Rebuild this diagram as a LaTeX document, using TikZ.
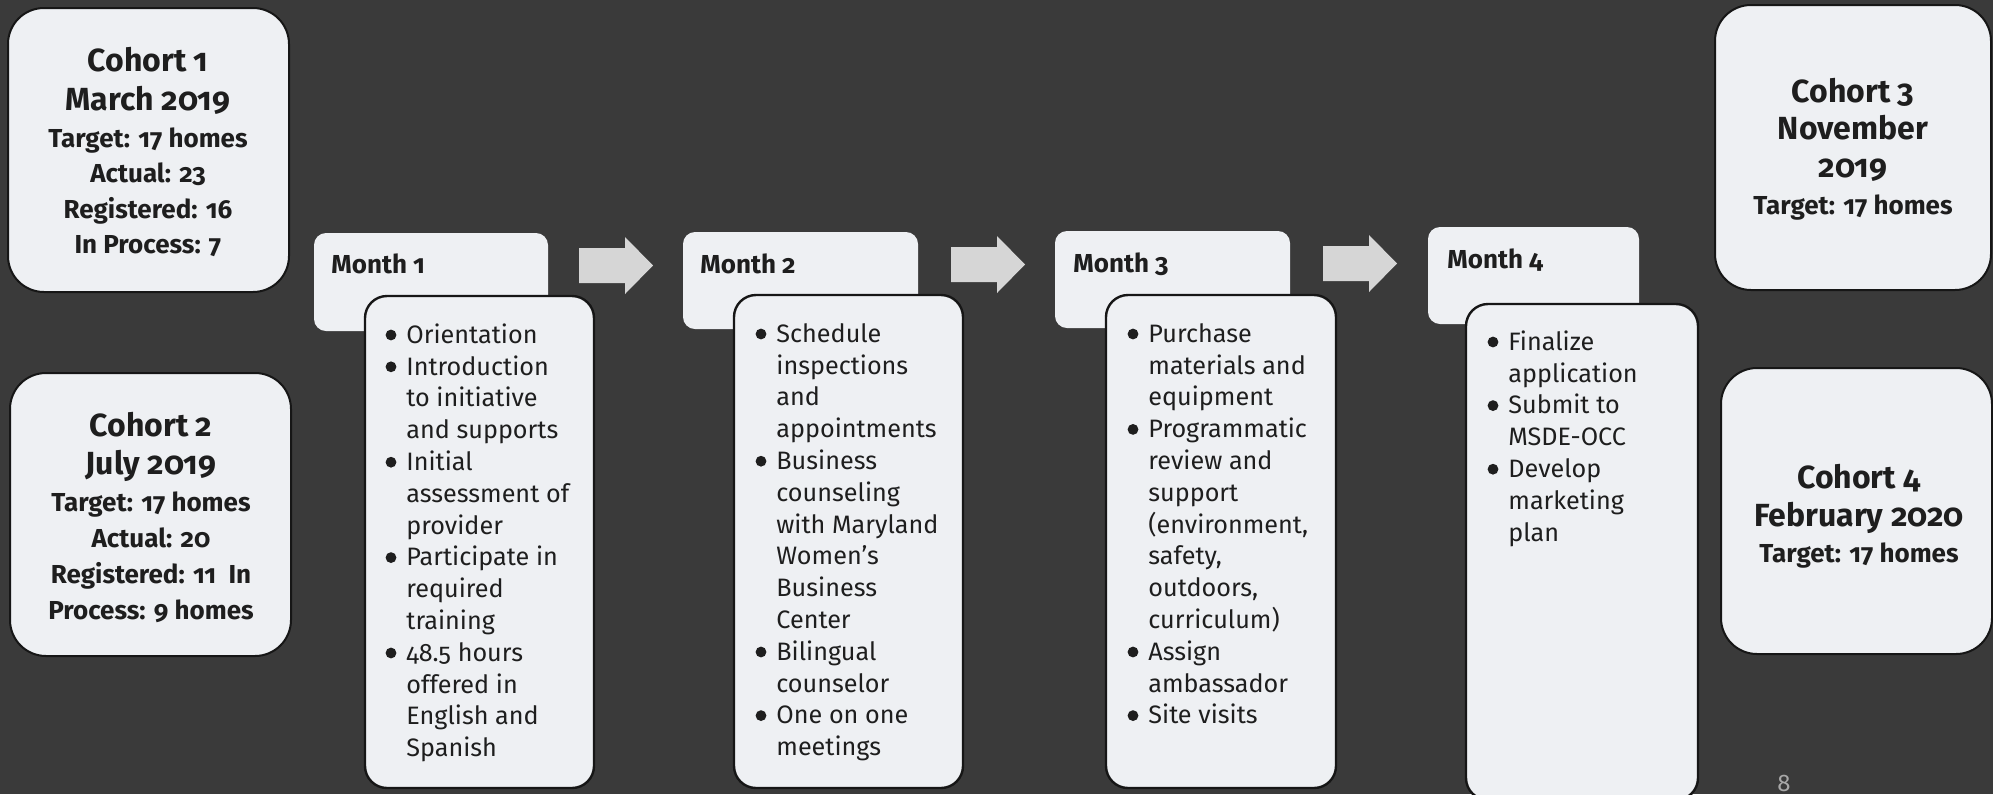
\documentclass[tikz,border=0pt]{standalone}
\usepackage{fontspec}
\setmainfont{Fira Sans}[Numbers=OldStyle]
\definecolor{bg}{HTML}{3A3A3A}
\definecolor{boxfill}{HTML}{EEF0F3}
\definecolor{boxline}{HTML}{161616}
\definecolor{arrowfill}{HTML}{D6D6D6}
\definecolor{ink}{HTML}{1E1E1E}
\definecolor{pagenum}{HTML}{A8A8A8}
\newcommand\mystrut{\rule{0pt}{0.7\baselineskip}}
\begin{document}
\begin{tikzpicture}[x=0.5pt,y=-0.5pt,
  cohort/.style={draw=boxline, line width=1pt, fill=boxfill, rounded corners=18pt,
    inner sep=0pt, outer sep=0pt, anchor=north west},
  monthhead/.style={fill=boxfill, rounded corners=6pt, inner sep=0pt, outer sep=0pt,
    anchor=north west},
  monthbody/.style={draw=boxline, line width=1.2pt, fill=boxfill, rounded corners=11pt,
    inner sep=0pt, outer sep=0pt, anchor=north west},
  ctitle/.style={font=\bfseries\fontsize{16}{#1}\selectfont, align=center, anchor=north,
    inner sep=0pt, text=ink},
  cdetail/.style={font=\bfseries\fontsize{13}{#1}\selectfont, align=center, anchor=north,
    inner sep=0pt, text=ink},
  mlabel/.style={font=\bfseries\fontsize{13}{16}\selectfont, anchor=base west,
    inner sep=0pt, text=ink},
  mlist/.style={font=\fontsize{12.6}{15.9}\selectfont, align=left, anchor=north west,
    inner sep=0pt, text=ink},
  blockarrow/.style={fill=arrowfill},
  bulletdot/.style={fill=ink}
]
\useasboundingbox (0,0) rectangle (1993,794);
\fill[bg] (0,0) rectangle (1993,794);

% ---------- cohort boxes ----------
\node[cohort, minimum width=140.5pt, minimum height=142pt] (c1box) at (8,8) {};
\node[cohort, minimum width=140.5pt, minimum height=141.5pt] (c2box) at (10,373) {};
\node[cohort, minimum width=138pt, minimum height=142.5pt] (c3box) at (1715,5) {};
\node[cohort, minimum width=135.5pt, minimum height=143pt] (c4box) at (1721,368) {};

\node[ctitle=19.5pt] (c1t) at (148,43.7) {\mystrut Cohort 1\\March 2019};
\node[cdetail=17.65pt] (c1d) at (148,122.3) {\mystrut Target: 17 homes\\Actual: 23\\Registered: 16\\In Process: 7};

\node[ctitle=19pt] (c2t) at (151,409.4) {\mystrut Cohort 2\\July 2019};
\node[cdetail=18pt] (c2d) at (151,485.8) {\mystrut Target: 17 homes\\Actual: 20\\Registered: 11 \ In\\Process: 9 homes};

\node[ctitle=18.75pt] (c3t) at (1853,75.75) {\mystrut Cohort 3\\November\\2019};
\node[cdetail=18pt] (c3d) at (1853,188.8) {\mystrut Target: 17 homes};

\node[ctitle=19pt] (c4t) at (1859,461.4) {\mystrut Cohort 4\\February 2020};
\node[cdetail=18pt] (c4d) at (1859,536.8) {\mystrut Target: 17 homes};

% ---------- month headers ----------
\node[monthhead, minimum width=117pt, minimum height=49pt] (m1) at (314,233) {};
\node[monthhead, minimum width=117.5pt, minimum height=48.5pt] (m2) at (683,232) {};
\node[monthhead, minimum width=117.5pt, minimum height=48.5pt] (m3) at (1055,231) {};
\node[monthhead, minimum width=105.5pt, minimum height=48.5pt] (m4) at (1428,227) {};

\node[mlabel] (m1t) at (331,273) {Month 1};
\node[mlabel] (m2t) at (700,273) {Month 2};
\node[mlabel] (m3t) at (1073,272) {Month 3};
\node[mlabel] (m4t) at (1447,268) {Month 4};

% ---------- block arrows ----------
\fill[blockarrow] (579,248) -- (625,248) -- (625,237) -- (653,265.5) -- (625,294) -- (625,283) -- (579,283) -- cycle;
\fill[blockarrow] (951,247) -- (997,247) -- (997,236) -- (1025,264.5) -- (997,293) -- (997,282) -- (951,282) -- cycle;
\fill[blockarrow] (1323,246) -- (1369,246) -- (1369,235) -- (1397,263.5) -- (1369,292) -- (1369,281) -- (1323,281) -- cycle;

% ---------- month bodies ----------
\node[monthbody, minimum width=114.5pt, minimum height=246pt] (b1) at (365,296) {};
\node[monthbody, minimum width=114.5pt, minimum height=246.5pt] (b2) at (734,295) {};
\node[monthbody, minimum width=115pt, minimum height=246.5pt] (b3) at (1106,295) {};
\node[monthbody, minimum width=116pt, minimum height=248pt] (b4) at (1466,304) {};

\node[mlist] (b1t) at (406,320.7) {\mystrut Orientation\\
Introduction\\to initiative\\and supports\\
Initial\\assessment of\\provider\\
Participate in\\required\\training\\
48.5 hours\\offered in\\English and\\Spanish};
\foreach \k in {0,1,4,7,10} \fill[bulletdot] (391,{335+31.8*\k}) circle[radius=2.7pt];

\node[mlist] (b2t) at (776,319.7) {\mystrut Schedule\\inspections\\and\\appointments\\
Business\\counseling\\with Maryland\\Women’s\\Business\\Center\\
Bilingual\\counselor\\
One on one\\meetings};
\foreach \k in {0,4,10,12} \fill[bulletdot] (761,{334+31.8*\k}) circle[radius=2.7pt];

\node[mlist] (b3t) at (1148,319.7) {\mystrut Purchase\\materials and\\equipment\\
Programmatic\\review and\\support\\(environment,\\safety,\\outdoors,\\curriculum)\\
Assign\\ambassador\\
Site visits};
\foreach \k in {0,3,10,12} \fill[bulletdot] (1133,{334+31.8*\k}) circle[radius=2.7pt];

\node[mlist] (b4t) at (1508,327.7) {\mystrut Finalize\\application\\
Submit to\\MSDE-OCC\\
Develop\\marketing\\plan};
\foreach \k in {0,2,4} \fill[bulletdot] (1493,{342+31.8*\k}) circle[radius=2.7pt];

% ---------- page number ----------
\node[font=\fontsize{12}{14}\selectfont, text=pagenum, anchor=base, inner sep=0pt] (pg) at (1784,791) {8};
\end{tikzpicture}
\end{document}
